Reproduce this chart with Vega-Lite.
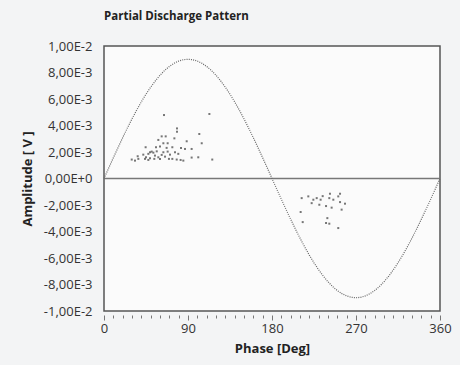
{
  "$schema": "https://vega.github.io/schema/vega-lite/v6.json",
  "width": 336,
  "height": 265,
  "autosize": {"type": "none"},
  "padding": {"left": 104, "top": 46, "right": 20, "bottom": 54},
  "background": "#f3f4f5",
  "title": {"text": "Partial Discharge Pattern", "anchor": "start", "fontSize": 11.5, "fontWeight": "bold", "color": "#222222", "offset": 18, "frame": "group"},
  "config": {
    "font": "Open Sans",
    "view": {"stroke": "#555555", "strokeWidth": 1.5, "fill": "#fbfbfb"}
  },
  "datasets": {
    "zero": [{"p": 0, "a": 0}, {"p": 360, "a": 0}],
    "sine": [
      {"p": 0, "a": 0}, {"p": 5, "a": 0.000784}, {"p": 10, "a": 0.001563}, {"p": 15, "a": 0.002329},
      {"p": 20, "a": 0.003078}, {"p": 25, "a": 0.003804}, {"p": 30, "a": 0.0045}, {"p": 35, "a": 0.005162},
      {"p": 40, "a": 0.005785}, {"p": 45, "a": 0.006364}, {"p": 50, "a": 0.006894}, {"p": 55, "a": 0.007372},
      {"p": 60, "a": 0.007794}, {"p": 65, "a": 0.008157}, {"p": 70, "a": 0.008457}, {"p": 75, "a": 0.008693},
      {"p": 80, "a": 0.008863}, {"p": 85, "a": 0.008966}, {"p": 90, "a": 0.009}, {"p": 95, "a": 0.008966},
      {"p": 100, "a": 0.008863}, {"p": 105, "a": 0.008693}, {"p": 110, "a": 0.008457}, {"p": 115, "a": 0.008157},
      {"p": 120, "a": 0.007794}, {"p": 125, "a": 0.007372}, {"p": 130, "a": 0.006894}, {"p": 135, "a": 0.006364},
      {"p": 140, "a": 0.005785}, {"p": 145, "a": 0.005162}, {"p": 150, "a": 0.0045}, {"p": 155, "a": 0.003804},
      {"p": 160, "a": 0.003078}, {"p": 165, "a": 0.002329}, {"p": 170, "a": 0.001563}, {"p": 175, "a": 0.000784},
      {"p": 180, "a": 0}, {"p": 185, "a": -0.000784}, {"p": 190, "a": -0.001563}, {"p": 195, "a": -0.002329},
      {"p": 200, "a": -0.003078}, {"p": 205, "a": -0.003804}, {"p": 210, "a": -0.0045}, {"p": 215, "a": -0.005162},
      {"p": 220, "a": -0.005785}, {"p": 225, "a": -0.006364}, {"p": 230, "a": -0.006894}, {"p": 235, "a": -0.007372},
      {"p": 240, "a": -0.007794}, {"p": 245, "a": -0.008157}, {"p": 250, "a": -0.008457}, {"p": 255, "a": -0.008693},
      {"p": 260, "a": -0.008863}, {"p": 265, "a": -0.008966}, {"p": 270, "a": -0.009}, {"p": 275, "a": -0.008966},
      {"p": 280, "a": -0.008863}, {"p": 285, "a": -0.008693}, {"p": 290, "a": -0.008457}, {"p": 295, "a": -0.008157},
      {"p": 300, "a": -0.007794}, {"p": 305, "a": -0.007372}, {"p": 310, "a": -0.006894}, {"p": 315, "a": -0.006364},
      {"p": 320, "a": -0.005785}, {"p": 325, "a": -0.005162}, {"p": 330, "a": -0.0045}, {"p": 335, "a": -0.003804},
      {"p": 340, "a": -0.003078}, {"p": 345, "a": -0.002329}, {"p": 350, "a": -0.001563}, {"p": 355, "a": -0.000784},
      {"p": 360, "a": 0}
    ],
    "pd": [
      {"p": 64.3, "a": 0.00479}, {"p": 112.9, "a": 0.00487}, {"p": 78.2, "a": 0.00378}, {"p": 78.2, "a": 0.00353},
      {"p": 102.1, "a": 0.00336}, {"p": 61.8, "a": 0.00318}, {"p": 66.1, "a": 0.00318}, {"p": 58.2, "a": 0.00291},
      {"p": 75.4, "a": 0.00303}, {"p": 63.6, "a": 0.00266}, {"p": 68.2, "a": 0.00266}, {"p": 88.6, "a": 0.00281},
      {"p": 104.7, "a": 0.00266}, {"p": 44.6, "a": 0.00236}, {"p": 55.7, "a": 0.00236}, {"p": 60, "a": 0.00241},
      {"p": 67.1, "a": 0.00231}, {"p": 73.2, "a": 0.00236}, {"p": 82.5, "a": 0.00231}, {"p": 86.8, "a": 0.00223},
      {"p": 93.9, "a": 0.00223}, {"p": 49.3, "a": 0.00198}, {"p": 52.9, "a": 0.00195}, {"p": 47.5, "a": 0.00186},
      {"p": 51.1, "a": 0.00203}, {"p": 56.5, "a": 0.00205}, {"p": 63.6, "a": 0.00198}, {"p": 68.2, "a": 0.00203},
      {"p": 76.1, "a": 0.00198}, {"p": 42.1, "a": 0.0018}, {"p": 54.6, "a": 0.00173}, {"p": 61.8, "a": 0.00178},
      {"p": 70.7, "a": 0.0018}, {"p": 79.6, "a": 0.00186}, {"p": 36.1, "a": 0.00168}, {"p": 45, "a": 0.0016},
      {"p": 49.3, "a": 0.00153}, {"p": 58.2, "a": 0.0016}, {"p": 65.4, "a": 0.00165}, {"p": 29.7, "a": 0.00143},
      {"p": 33.2, "a": 0.00135}, {"p": 36.8, "a": 0.00148}, {"p": 43.9, "a": 0.00148}, {"p": 47.5, "a": 0.0014},
      {"p": 53.9, "a": 0.00148}, {"p": 60, "a": 0.00148}, {"p": 69.6, "a": 0.00148}, {"p": 73.2, "a": 0.00148},
      {"p": 77.9, "a": 0.00143}, {"p": 82.1, "a": 0.0014}, {"p": 85, "a": 0.00135}, {"p": 93.9, "a": 0.00158},
      {"p": 101, "a": 0.0016}, {"p": 116, "a": 0.00143},
      {"p": 211.8, "a": -0.00148}, {"p": 218.9, "a": -0.00135}, {"p": 224.3, "a": -0.0016}, {"p": 222.5, "a": -0.00186},
      {"p": 227.9, "a": -0.00148}, {"p": 232.1, "a": -0.0016}, {"p": 234.3, "a": -0.00133}, {"p": 242.1, "a": -0.00115},
      {"p": 241.4, "a": -0.00148}, {"p": 245.7, "a": -0.0016}, {"p": 251, "a": -0.00135}, {"p": 252.9, "a": -0.00115},
      {"p": 252.9, "a": -0.00178}, {"p": 258.2, "a": -0.0019}, {"p": 230.7, "a": -0.00198}, {"p": 237.9, "a": -0.00208},
      {"p": 243.9, "a": -0.0022}, {"p": 254.6, "a": -0.00235}, {"p": 210.7, "a": -0.00253}, {"p": 239.3, "a": -0.00299},
      {"p": 212.9, "a": -0.00329}, {"p": 237.9, "a": -0.00336}, {"p": 241.4, "a": -0.00341}, {"p": 251, "a": -0.00374}
    ]
  },
  "encoding": {
    "x": {
      "field": "p", "type": "quantitative",
      "scale": {"domain": [0, 360], "nice": false},
      "title": "Phase [Deg]",
      "axis": {
        "values": [0, 10, 20, 30, 40, 50, 60, 70, 80, 90, 100, 110, 120, 130, 140, 150, 160, 170, 180, 190, 200, 210, 220, 230, 240, 250, 260, 270, 280, 290, 300, 310, 320, 330, 340, 350, 360],
        "labelExpr": "datum.value % 90 == 0 ? format(datum.value, 'd') : ''",
        "labelOverlap": false, "labelFlush": false, "labelBound": false,
        "domain": false, "grid": false, "offset": 4,
        "tickColor": "#777777",
        "tickSize": {"condition": {"test": "datum.value % 90 == 0", "value": 5}, "value": 3},
        "labelFontSize": 13, "labelColor": "#333333", "labelPadding": 2,
        "titleFontSize": 13, "titleFontWeight": "bold", "titleColor": "#222222", "titlePadding": 7
      }
    },
    "y": {
      "field": "a", "type": "quantitative",
      "scale": {"domain": [-0.01, 0.01], "nice": false},
      "title": "Amplitude [ V ]",
      "axis": {
        "values": [-0.01, -0.008, -0.006, -0.004, -0.002, 0, 0.002, 0.004, 0.006, 0.008, 0.01],
        "labelExpr": "replace(replace(upper(format(datum.value, '.2e')), '.', ','), '\u2212', '-')",
        "labelOverlap": false, "labelFlush": false, "labelBound": false,
        "domain": false, "grid": false, "ticks": false,
        "labelFontSize": 13, "labelColor": "#333333", "labelPadding": 12,
        "titleFontSize": 13, "titleFontWeight": "bold", "titleColor": "#222222", "titlePadding": 9
      }
    }
  },
  "layer": [
    {"data": {"name": "zero"}, "mark": {"type": "line", "color": "#777777", "strokeWidth": 1.5}},
    {"data": {"name": "sine"}, "mark": {"type": "line", "color": "#666666", "strokeWidth": 1.2, "strokeDash": [1, 1.2]}},
    {"data": {"name": "pd"}, "mark": {"type": "square", "color": "#555555", "size": 4, "opacity": 0.8}}
  ]
}
